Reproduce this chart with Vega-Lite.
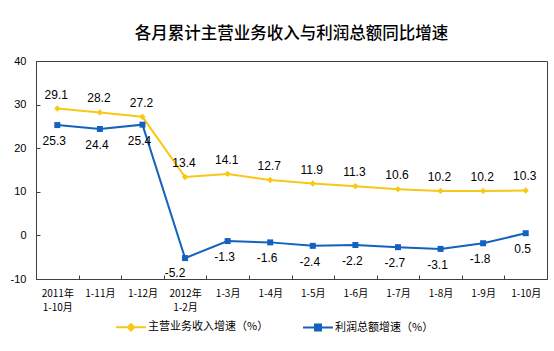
{
  "$schema": "https://vega.github.io/schema/vega-lite/v6.json",
  "width": 511,
  "height": 218,
  "autosize": "none",
  "padding": {"left": 36, "top": 61, "right": 7, "bottom": 72},
  "background": "white",
  "title": {
    "text": "各月累计主营业务收入与利润总额同比增速",
    "font": "Noto Sans CJK SC",
    "fontSize": 16.5,
    "fontWeight": 500,
    "color": "#000000",
    "anchor": "middle",
    "offset": 13
  },
  "config": {
    "view": {"stroke": "#404040", "strokeWidth": 1},
    "axis": {"grid": false, "domainColor": "#404040", "tickColor": "#404040", "labelColor": "#000000"}
  },
  "data": {
    "values": [
      {"month": "2011年|1-10月", "series": "主营业务收入增速（%）", "value": 29.1},
      {"month": "1-11月", "series": "主营业务收入增速（%）", "value": 28.2},
      {"month": "1-12月", "series": "主营业务收入增速（%）", "value": 27.2},
      {"month": "2012年|1-2月", "series": "主营业务收入增速（%）", "value": 13.4},
      {"month": "1-3月", "series": "主营业务收入增速（%）", "value": 14.1},
      {"month": "1-4月", "series": "主营业务收入增速（%）", "value": 12.7},
      {"month": "1-5月", "series": "主营业务收入增速（%）", "value": 11.9},
      {"month": "1-6月", "series": "主营业务收入增速（%）", "value": 11.3},
      {"month": "1-7月", "series": "主营业务收入增速（%）", "value": 10.6},
      {"month": "1-8月", "series": "主营业务收入增速（%）", "value": 10.2},
      {"month": "1-9月", "series": "主营业务收入增速（%）", "value": 10.2},
      {"month": "1-10月", "series": "主营业务收入增速（%）", "value": 10.3},
      {"month": "2011年|1-10月", "series": "利润总额增速（%）", "value": 25.3},
      {"month": "1-11月", "series": "利润总额增速（%）", "value": 24.4},
      {"month": "1-12月", "series": "利润总额增速（%）", "value": 25.4},
      {"month": "2012年|1-2月", "series": "利润总额增速（%）", "value": -5.2},
      {"month": "1-3月", "series": "利润总额增速（%）", "value": -1.3},
      {"month": "1-4月", "series": "利润总额增速（%）", "value": -1.6},
      {"month": "1-5月", "series": "利润总额增速（%）", "value": -2.4},
      {"month": "1-6月", "series": "利润总额增速（%）", "value": -2.2},
      {"month": "1-7月", "series": "利润总额增速（%）", "value": -2.7},
      {"month": "1-8月", "series": "利润总额增速（%）", "value": -3.1},
      {"month": "1-9月", "series": "利润总额增速（%）", "value": -1.8},
      {"month": "1-10月", "series": "利润总额增速（%）", "value": 0.5}
    ]
  },
  "encoding": {
    "x": {
      "field": "month",
      "type": "nominal",
      "sort": null,
      "scale": {"paddingInner": 0, "paddingOuter": 0},
      "axis": {
        "title": null,
        "labelAngle": 0,
        "labelExpr": "split(datum.label, '|')",
        "labelFont": "Noto Sans CJK SC",
        "labelFontSize": 10,
        "labelLineHeight": 14,
        "labelBaseline": "top",
        "labelPadding": 13,
        "tickBand": "extent",
        "tickSize": -4,
        "labelAlign": "center"
      }
    },
    "y": {
      "field": "value",
      "type": "quantitative",
      "scale": {"domain": [-10, 40], "nice": false, "zero": false},
      "axis": {
        "title": null,
        "values": [-10, 0, 10, 20, 30, 40],
        "labelExpr": "datum.value + ''",
        "labelFont": "Liberation Sans",
        "labelFontSize": 11,
        "tickSize": -4,
        "labelPadding": 14
      }
    }
  },
  "layer": [
    {
      "mark": {"type": "line", "strokeWidth": 2},
      "encoding": {
        "color": {
          "field": "series",
          "type": "nominal",
          "sort": null,
          "scale": {"domain": ["主营业务收入增速（%）", "利润总额增速（%）"], "range": ["#F7C815", "#1262BE"]},
          "legend": {
            "title": null,
            "orient": "none",
            "direction": "horizontal",
            "legendX": 79,
            "legendY": 250,
            "labelFont": "Noto Sans CJK SC",
            "labelFontSize": 11,
            "labelColor": "#000000",
            "labelOffset": 1,
            "columnPadding": 30,
            "symbolSize": 900,
            "symbolStrokeWidth": 2,
            "encode": {
              "symbols": {
                "update": {
                  "shape": {"signal": "datum.value == '主营业务收入增速（%）' ? 'M-1,0H1M0,-0.22L0.22,0L0,0.22L-0.22,0Z' : 'M-1,0H1M-0.2,-0.2H0.2V0.2H-0.2Z'"},
                  "fill": {"scale": "color", "field": "value"},
                  "stroke": {"scale": "color", "field": "value"},
                  "fillOpacity": {"value": 1},
                  "strokeWidth": {"value": 2}
                }
              }
            }
          }
        }
      }
    },
    {
      "transform": [{"filter": "datum.series == '主营业务收入增速（%）'"}],
      "mark": {"type": "point", "filled": true, "opacity": 1, "size": 40, "shape": "diamond"},
      "encoding": {
        "color": {"field": "series", "type": "nominal", "sort": null, "legend": null}
      }
    },
    {
      "transform": [{"filter": "datum.series == '利润总额增速（%）'"}],
      "mark": {"type": "point", "filled": true, "opacity": 1, "size": 36, "shape": "square"},
      "encoding": {
        "color": {"field": "series", "type": "nominal", "sort": null, "legend": null}
      }
    },
    {
      "transform": [{"filter": "datum.series == '主营业务收入增速（%）'"}],
      "mark": {"type": "text", "dy": -14, "dx": -1, "font": "Liberation Sans", "fontSize": 12, "color": "#000000"},
      "encoding": {"text": {"field": "value", "type": "nominal"}}
    },
    {
      "transform": [{"filter": "datum.series == '利润总额增速（%）' && datum.value != -5.2"}],
      "mark": {"type": "text", "dy": 16, "dx": -3, "font": "Liberation Sans", "fontSize": 12, "color": "#000000"},
      "encoding": {"text": {"field": "value", "type": "nominal"}}
    },
    {
      "transform": [{"filter": "datum.series == '利润总额增速（%）' && datum.value == -5.2"}],
      "mark": {"type": "text", "dy": 15, "dx": -10, "font": "Liberation Sans", "fontSize": 12, "color": "#000000"},
      "encoding": {"text": {"field": "value", "type": "nominal"}}
    }
  ]
}
